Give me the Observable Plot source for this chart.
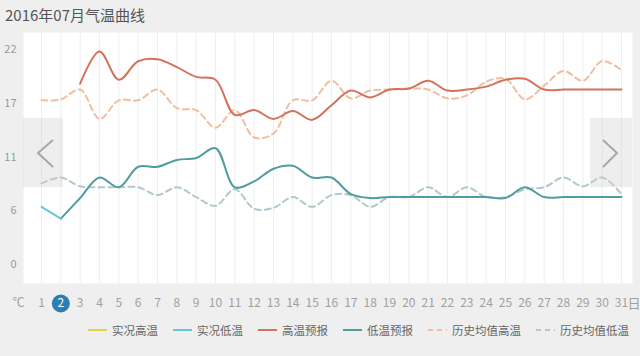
<!DOCTYPE html>
<html>
<head>
<meta charset="utf-8">
<script src="https://cdn.jsdelivr.net/npm/d3@7"></script>
<script src="https://cdn.jsdelivr.net/npm/@observablehq/plot@0.6"></script>
<style>
  html, body { margin: 0; padding: 0; background: #efefef; }
  body { width: 640px; height: 356px; position: relative; overflow: hidden; font-family: "Noto Sans CJK SC", "Noto Sans", sans-serif; }
  #title { position: absolute; left: 5px; top: 5px; font-size: 15px; color: #555; line-height: 20px; }
  #chart { position: absolute; left: 0; top: 32px; }
  #legend { position: absolute; left: 88px; top: 322px; display: flex; align-items: center; font-size: 11.5px; color: #666; white-space: nowrap; }
  .item { display: flex; align-items: center; margin-right: 15px; }
  .item svg { margin-right: 5px; }
  .nav { position: absolute; background: rgba(205,205,205,0.35); }
</style>
</head>
<body>
<div id="title">2016年07月气温曲线</div>
<div id="chart"></div>
<div class="nav" style="left:23px;top:118px;width:40px;height:69px;"><svg width="40" height="69"><polyline points="30,22 15,35 30,49" fill="none" stroke="#a8a8a8" stroke-width="2"/></svg></div>
<div class="nav" style="left:590px;top:118px;width:42px;height:69px;"><svg width="42" height="69"><polyline points="13,22 27,35 13,49" fill="none" stroke="#a8a8a8" stroke-width="2"/></svg></div>
<div id="legend"></div>
<script>
const days = d3.range(1, 32);
const yTicks = [0, 5.5, 11, 16.5, 22];
const actualHigh = days.map(() => null);
const actualLow = [5.9, 4.7, null, null, null, null, null, null, null, null, null, null, null, null, null, null, null, null, null, null, null, null, null, null, null, null, null, null, null, null, null];
const highForecast = [null, null, 18.5, 21.8, 18.9, 20.8, 21.0, 20.2, 19.2, 18.9, 15.3, 15.8, 14.9, 15.7, 14.8, 16.3, 17.8, 17.1, 17.9, 18.0, 18.8, 17.8, 17.9, 18.2, 18.9, 19.0, 17.9, 17.9, 17.9, 17.9, 17.9];
const lowForecast = [null, 4.7, 6.8, 8.9, 7.9, 10.0, 10.0, 10.7, 10.9, 11.9, 7.9, 8.5, 9.8, 10.1, 8.9, 8.9, 7.2, 6.8, 6.9, 6.9, 6.9, 6.9, 6.9, 6.9, 6.8, 7.9, 6.9, 6.9, 6.9, 6.9, 6.9];
const histHigh = [16.8, 16.9, 17.9, 14.9, 16.8, 16.8, 17.9, 16.0, 15.8, 14.0, 15.8, 13.0, 13.4, 16.8, 16.8, 18.8, 17.0, 17.8, 17.9, 18.0, 17.9, 17.0, 17.3, 18.7, 19.0, 16.9, 18.3, 19.8, 18.8, 20.8, 19.9];
const histLow = [8.3, 8.9, 8.0, 7.9, 7.9, 7.9, 7.1, 7.9, 6.9, 6.0, 7.7, 5.7, 5.8, 6.9, 5.9, 7.1, 7.1, 5.9, 6.9, 6.9, 7.9, 6.9, 7.9, 6.9, 6.9, 7.7, 7.9, 8.9, 8.0, 8.9, 7.2];

const seriesNames = ["实况高温", "实况低温", "高温预报", "低温预报", "历史均值高温", "历史均值低温"];
const seriesColors = ["#e6cf4a", "#66c6da", "#d2735a", "#4f9e9f", "#f1bea0", "#b3c8cd"];
const seriesDashed = [false, false, false, false, true, true];
const seriesValues = [actualHigh, actualLow, highForecast, lowForecast, histHigh, histLow];

function pts(vals) {
  return days.map((d, i) => ({day: d, v: vals[i]})).filter(p => p.v != null);
}

const drawOrder = [5, 4, 3, 2, 1, 0];
const lineMarks = drawOrder.map(i => Plot.line(pts(seriesValues[i]), {
  x: "day", y: "v", curve: "catmull-rom",
  stroke: seriesColors[i], strokeWidth: 2,
  strokeDasharray: seriesDashed[i] ? "6,4" : null
}));

const chart = Plot.plot({
  width: 640, height: 290,
  marginTop: 0, marginBottom: 39, marginLeft: 23, marginRight: 8,
  style: {fontFamily: "'Noto Sans CJK SC', 'Noto Sans', sans-serif", background: "transparent"},
  x: {domain: [1, 31], insetLeft: 18, insetRight: 11, axis: null},
  y: {domain: [0, 22], insetTop: 17, insetBottom: 19, axis: null},
  marks: [
    Plot.frame({fill: "white", stroke: "none"}),
    Plot.ruleX(days, {x: d => d, stroke: "#efefef", strokeWidth: 1}),
    ...lineMarks,
    Plot.text(yTicks, {y: d => d, frameAnchor: "left", textAnchor: "end", lineAnchor: "middle", dx: -7, text: d => String(Math.round(d)), fill: "#9a9a9a", fontSize: 11}),
    Plot.dot([2], {x: d => d, frameAnchor: "bottom", dy: 20, r: 9, fill: "#2b7db3", stroke: "none"}),
    Plot.text(days.filter(d => d !== 2), {x: d => d, frameAnchor: "bottom", lineAnchor: "middle", dy: 20, text: d => String(d), fill: "#a0a0a0", fontSize: 12}),
    Plot.text([2], {x: d => d, frameAnchor: "bottom", lineAnchor: "middle", dy: 20, text: d => String(d), fill: "white", fontSize: 12}),
    Plot.text(["℃"], {frameAnchor: "bottom-left", lineAnchor: "middle", dx: -11, dy: 20, fill: "#a0a0a0", fontSize: 12}),
    Plot.text(["日"], {frameAnchor: "bottom-right", lineAnchor: "middle", dx: -5, dy: 20, textAnchor: "start", fill: "#a0a0a0", fontSize: 13})
  ]
});
document.getElementById("chart").appendChild(chart);

const legend = document.getElementById("legend");
seriesNames.forEach((name, i) => {
  const item = document.createElement("div");
  item.className = "item";
  item.innerHTML = `<svg width="19" height="4"><line x1="0" y1="2" x2="19" y2="2" stroke="${seriesColors[i]}" stroke-width="2" ${seriesDashed[i] ? 'stroke-dasharray="5,4"' : ''}/></svg><span>${name}</span>`;
  legend.appendChild(item);
});
</script>
</body>
</html>
